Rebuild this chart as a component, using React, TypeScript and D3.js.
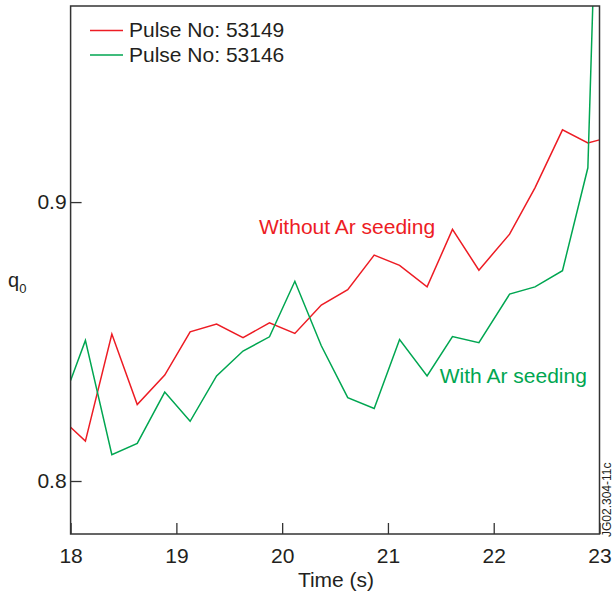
import React, { useEffect, useRef } from "react";
import * as d3 from "d3";

const redTime = [18.0, 18.14, 18.39, 18.63, 18.89, 19.13, 19.38, 19.63, 19.88, 20.12, 20.37, 20.62, 20.87, 21.11, 21.37, 21.61, 21.86, 22.15, 22.39, 22.65, 22.89, 23.0];
const redQ = [0.8193, 0.8143, 0.8527, 0.8274, 0.838, 0.8535, 0.8563, 0.8514, 0.8567, 0.8529, 0.8631, 0.8686, 0.881, 0.8773, 0.8696, 0.8902, 0.8756, 0.8885, 0.9051, 0.9259, 0.9212, 0.9223];
const greenTime = [18.0, 18.14, 18.39, 18.63, 18.89, 19.13, 19.38, 19.63, 19.88, 20.12, 20.37, 20.62, 20.87, 21.11, 21.37, 21.61, 21.86, 22.15, 22.39, 22.65, 22.89, 22.94];
const greenQ = [0.836, 0.8504, 0.8094, 0.8135, 0.8319, 0.8214, 0.8377, 0.8466, 0.8517, 0.8716, 0.8485, 0.8299, 0.826, 0.8507, 0.8377, 0.8518, 0.8496, 0.867, 0.8696, 0.8754, 0.9123, 0.975];
const xTicks = [18, 19, 20, 21, 22, 23];
const yTicks = [0.8, 0.9];
const legendLabels = ["Pulse No: 53149", "Pulse No: 53146"];
const annotations = ["Without Ar seeding", "With Ar seeding"];

const RED = "#ed1c24";
const GREEN = "#00a651";
const INK = "#231f20";
const FONT = "'Liberation Sans', Arial, Helvetica, sans-serif";

export default function App() {
  const ref = useRef<SVGSVGElement>(null);
  const W = 613, H = 593;
  const m = { left: 70.6, right: 13.5, top: 6, bottom: 59 };
  const iw = W - m.left - m.right;
  const ih = H - m.top - m.bottom;
  const x = d3.scaleLinear().domain([18, 23]).range([0, iw]);
  const y = d3.scaleLinear().domain([0.781, 0.9703]).range([ih, 0]);

  useEffect(() => {
    const svg = d3.select(ref.current);
    const gx = svg.select<SVGGElement>(".xaxis");
    gx.call(d3.axisBottom(x).tickValues(xTicks).tickFormat(d3.format("d")).tickSize(-11).tickPadding(14));
    const gy = svg.select<SVGGElement>(".yaxis");
    gy.call(d3.axisLeft(y).tickValues(yTicks).tickFormat(d3.format(".1f")).tickSize(-11).tickPadding(4));
    [gx, gy].forEach((g) => {
      g.select(".domain").remove();
      g.selectAll(".tick line").attr("stroke", "#333").attr("stroke-width", 1.3);
      g.selectAll(".tick text").attr("fill", INK).attr("font-size", 21).attr("font-family", FONT);
    });
  }, []);

  const line = d3.line<[number, number]>().x((d) => x(d[0])).y((d) => y(d[1]));
  const redPts = redTime.map((t, i) => [t, redQ[i]] as [number, number]);
  const greenPts = greenTime.map((t, i) => [t, greenQ[i]] as [number, number]);

  return (
    <svg ref={ref} width={W} height={H} style={{ position: "absolute", left: 0, top: 0, background: "#fff" }} fontFamily={FONT}>
      <defs>
        <clipPath id="clip">
          <rect x={0} y={0} width={iw} height={ih} />
        </clipPath>
      </defs>
      <g transform={`translate(${m.left},${m.top})`}>
        <g clipPath="url(#clip)">
          <path d={line(redPts) || ""} fill="none" stroke={RED} strokeWidth={1.5} strokeLinejoin="miter" />
          <path d={line(greenPts) || ""} fill="none" stroke={GREEN} strokeWidth={1.5} strokeLinejoin="miter" />
        </g>
        <g className="xaxis" transform={`translate(0,${ih})`} />
        <g className="yaxis" />
        <rect x={0} y={0} width={iw} height={ih} fill="none" stroke="#333" strokeWidth={1.5} />
        <text x={x(19.78)} y={y(0.8885)} fill={RED} fontSize={21}>{annotations[0]}</text>
        <text x={x(21.49)} y={y(0.835)} fill={GREEN} fontSize={21}>{annotations[1]}</text>
      </g>
      <line x1={90} x2={123} y1={30.5} y2={30.5} stroke={RED} strokeWidth={1.5} />
      <line x1={90} x2={123} y1={55} y2={55} stroke={GREEN} strokeWidth={1.5} />
      <text x={129} y={37} fill={INK} fontSize={21}>{legendLabels[0]}</text>
      <text x={129} y={61.5} fill={INK} fontSize={21}>{legendLabels[1]}</text>
      <text x={336} y={587} textAnchor="middle" fill={INK} fontSize={21}>Time (s)</text>
      <text x={8} y={287} fill={INK} fontSize={20}>
        q<tspan fontSize={13} dy={6}>0</tspan>
      </text>
      <text transform="translate(611,537) rotate(-90)" fill={INK} fontSize={12}>JG02.304-11c</text>
    </svg>
  );
}
